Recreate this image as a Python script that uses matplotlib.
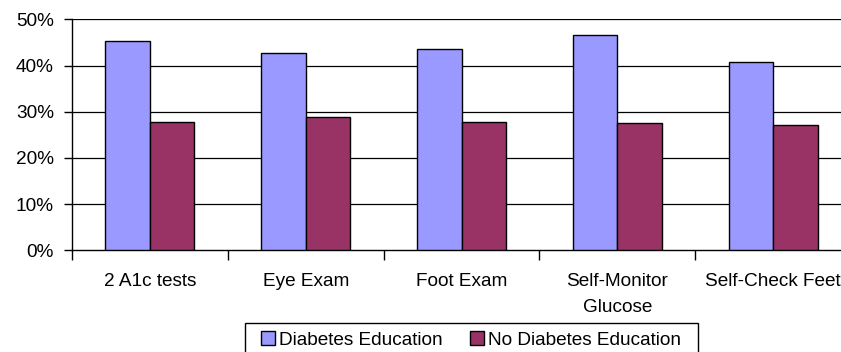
import matplotlib
matplotlib.use("Agg")
import matplotlib.pyplot as plt
from matplotlib.ticker import FixedLocator, FuncFormatter
from matplotlib.patches import Rectangle
import numpy as np

plt.rcParams['font.family'] = ['Liberation Sans', 'DejaVu Sans']

categories = ["2 A1c tests", "Eye Exam", "Foot Exam", "Self-Monitor\nGlucose", "Self-Check Feet"]
edu = [45.4, 42.6, 43.6, 46.5, 40.8]
no_edu = [27.8, 28.9, 27.8, 27.5, 27.2]
series_names = ["Diabetes Education", "No Diabetes Education"]
yticks = [0, 10, 20, 30, 40, 50]

FS = 13.7
W, H = 841, 352
fig = plt.figure(figsize=(W / 100, H / 100), dpi=100)
ax = fig.add_axes([72 / W, (H - 250.3) / H, (851 - 72) / W, 231 / H])

x = np.arange(len(categories))
w = 0.285
ax.bar(x - w / 2, edu, w, color="#9999FF", edgecolor="black", linewidth=1, label=series_names[0], zorder=3)
ax.bar(x + w / 2, no_edu, w, color="#993366", edgecolor="black", linewidth=1, label=series_names[1], zorder=3)

ax.set_xlim(-0.5, len(categories) - 0.5)
ax.set_ylim(0, 50)
ax.set_yticks(yticks)
ax.yaxis.set_major_formatter(FuncFormatter(lambda v, p: f"{int(v)}%"))
ax.tick_params(axis='y', direction='out', length=6, width=1, labelsize=FS, pad=7)
for yv in yticks[1:]:
    ax.axhline(yv, color="black", linewidth=0.9, zorder=1)

ax.set_xticks(x)
ax.set_xticklabels(categories, fontsize=FS, linespacing=1.68)
ax.tick_params(axis='x', which='major', length=0, pad=16.5)
ax.xaxis.set_minor_locator(FixedLocator(np.arange(-0.5, len(categories), 1.0)))
ax.tick_params(axis='x', which='minor', length=7, width=1, direction='out')

for s in ['top', 'right']:
    ax.spines[s].set_visible(False)
for s in ['left', 'bottom']:
    ax.spines[s].set_linewidth(1)
    ax.spines[s].set_color("black")

leg = fig.legend(loc="center", bbox_to_anchor=(471 / W, (H - 340) / H), ncol=2,
                 fontsize=FS, frameon=False,
                 handlelength=0.74, handleheight=0.74, handletextpad=0.22, columnspacing=1.45,
                 borderpad=0.0, borderaxespad=0)

# legend frame (wider horizontal padding than matplotlib's symmetric borderpad)
fig.patches.append(Rectangle((244.7 / W, (H - 358) / H), (698 - 244.7) / W, (358 - 323.3) / H,
                             transform=fig.transFigure, fill=False, edgecolor="black",
                             linewidth=1, figure=fig))

fig.savefig("out.png", dpi=100)
